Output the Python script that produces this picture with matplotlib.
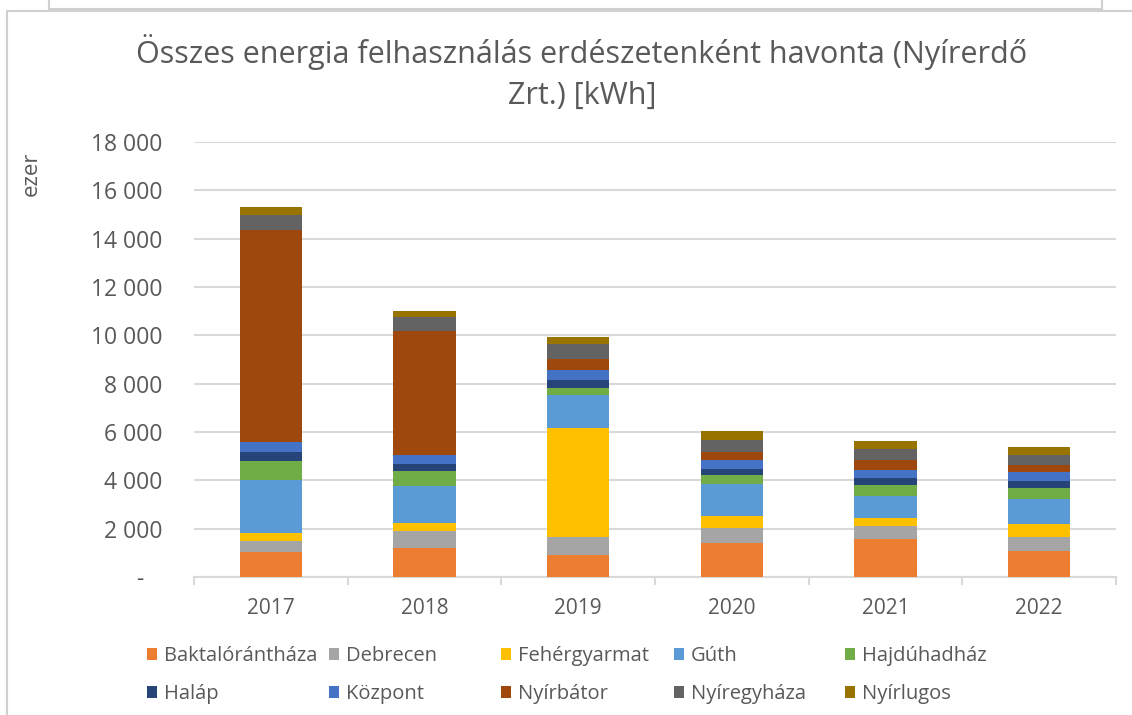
import matplotlib
matplotlib.use("Agg")
import matplotlib.pyplot as plt
import matplotlib.ticker as mticker
import numpy as np
from matplotlib.lines import Line2D
from matplotlib.patches import Patch

plt.rcParams["font.family"] = ["Open Sans", "DejaVu Sans"]

# ── Data (ezer kWh) ────────────────────────────────────
years = ["2017", "2018", "2019", "2020", "2021", "2022"]
series = ["Baktalórántháza", "Debrecen", "Fehérgyarmat", "Gúth", "Hajdúhadház",
          "Haláp", "Központ", "Nyírbátor", "Nyíregyháza", "Nyírlugos"]
baktalorantheza = [1020, 1180, 930, 1410, 1560, 1080]
debrecen = [470, 730, 730, 620, 570, 580]
fehergyarmat = [350, 320, 4510, 480, 300, 530]
guth = [2190, 1540, 1380, 1350, 940, 1050]
hajduhadhaz = [770, 610, 270, 370, 430, 430]
halap = [390, 290, 350, 250, 300, 300]
kozpont = [390, 370, 380, 370, 320, 390]
nyirbator = [8780, 5150, 460, 320, 440, 280]
nyiregyhaza = [620, 580, 650, 480, 430, 410]
nyirlugos = [340, 240, 270, 390, 340, 340]
values = [baktalorantheza, debrecen, fehergyarmat, guth, hajduhadhaz,
          halap, kozpont, nyirbator, nyiregyhaza, nyirlugos]

COLORS = ["#ED7D31", "#A5A5A5", "#FFC000", "#5B9BD5", "#70AD47",
          "#264478", "#4472C4", "#9E480E", "#636363", "#997300"]
TEXT = "#595959"
GRID = "#D9D9D9"

W, H = 1132, 715
fig = plt.figure(figsize=(W / 100, H / 100), dpi=100)
ax = fig.add_axes([194 / W, 1 - 577 / H, (1116 - 194) / W, (577 - 142) / H])

x = np.arange(len(years))
bottom = np.zeros(len(years))
for name, vals, col in zip(series, values, COLORS):
    ax.bar(x, vals, bottom=bottom, width=0.405, color=col, label=name, zorder=3)
    bottom += np.array(vals)

ax.set_xlim(-0.5, len(years) - 0.5)
ax.set_ylim(0, 18000)
ax.yaxis.set_major_locator(mticker.MultipleLocator(2000))


def fmt(v, _):
    if v == 0:
        return "-   "
    return f"{int(v):,}".replace(",", " ")


ax.yaxis.set_major_formatter(mticker.FuncFormatter(fmt))
ax.grid(axis="y", color=GRID, linewidth=1.5, zorder=0)
for s in ("top", "right", "left"):
    ax.spines[s].set_visible(False)
ax.spines["bottom"].set_color(GRID)
ax.spines["bottom"].set_linewidth(1.5)
ax.set_xticks(x)
ax.set_xticklabels(years)
ax.set_xticks(np.arange(-0.5, len(years)), minor=True)
ax.tick_params(axis="x", which="major", length=0, pad=15, labelsize=15, labelcolor=TEXT)
ax.tick_params(axis="x", which="minor", length=6, width=1.5, color=GRID)
ax.tick_params(axis="y", length=0, pad=23, labelsize=16.5, labelcolor=TEXT)

fig.text(31 / W, 1 - 174 / H, "ezer", rotation=90, ha="center", va="center",
         fontsize=16, color=TEXT)

fig.text(582 / W, 1 - 72 / H, "Összes energia felhasználás erdészetenként havonta (Nyírerdő\nZrt.) [kWh]",
         ha="center", va="center", fontsize=22, color=TEXT, linespacing=1.47)

# legend in uniform columns, like the spreadsheet
col_x = [147, 329, 501, 674, 845]
for c in range(5):
    handles = [Patch(facecolor=COLORS[c], label=series[c]),
               Patch(facecolor=COLORS[c + 5], label=series[c + 5])]
    fig.legend(handles=handles, loc="upper left", bbox_to_anchor=(col_x[c] / W, 1 - 646 / H),
               frameon=False, fontsize=14.5, labelcolor=TEXT, handlelength=0.5,
               handleheight=0.5, handletextpad=0.35, labelspacing=0.9,
               borderpad=0, borderaxespad=0)

# surrounding frame lines
for (x0, y0, x1, y1) in [(7, 11, W, 11), (7, 11, 7, H), (49, 9, 1102, 9),
                         (49, 0, 49, 9), (1102, 0, 1102, 9)]:
    fig.add_artist(Line2D([x0 / W, x1 / W], [1 - y0 / H, 1 - y1 / H],
                          color="#D0D0D0", linewidth=1.5, transform=fig.transFigure))

fig.savefig("out.png", dpi=100)
